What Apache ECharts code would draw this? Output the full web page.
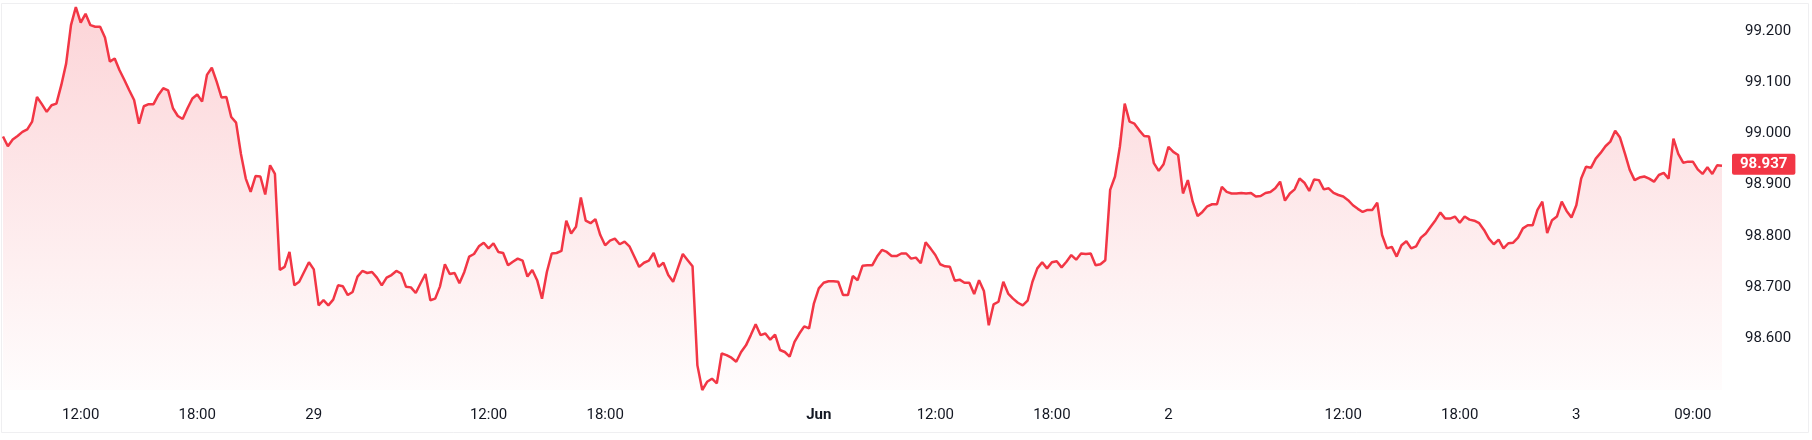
<!DOCTYPE html>
<html>
<head>
<meta charset="utf-8">
<script src="https://cdn.jsdelivr.net/npm/echarts@6/dist/echarts.min.js"></script>
<style>
html,body{margin:0;padding:0;background:#ffffff;}
#chart{width:1812px;height:440px;}
</style>
</head>
<body>
<div id="chart"></div>
<script>
// 15-minute closes
const prices = [
98.994,98.975,98.988,98.995,99.003,99.008,99.023,99.071,99.057,99.042,
99.055,99.058,99.094,99.136,99.211,99.246,99.216,99.233,99.211,99.208,
99.208,99.187,99.140,99.146,99.123,99.104,99.084,99.065,99.019,99.053,
99.057,99.057,99.075,99.088,99.084,99.049,99.034,99.028,99.049,99.068,
99.076,99.062,99.114,99.128,99.101,99.070,99.071,99.032,99.021,98.960,
98.912,98.886,98.917,98.916,98.881,98.938,98.921,98.734,98.740,98.769,
98.704,98.711,98.730,98.749,98.735,98.665,98.675,98.665,98.676,98.704,
98.702,98.685,98.691,98.721,98.732,98.728,98.730,98.719,98.704,98.719,
98.724,98.732,98.727,98.701,98.700,98.689,98.708,98.726,98.675,98.678,
98.702,98.745,98.726,98.728,98.708,98.730,98.760,98.765,98.780,98.787,
98.776,98.786,98.769,98.767,98.743,98.750,98.756,98.752,98.721,98.734,
98.714,98.678,98.730,98.766,98.767,98.771,98.830,98.805,98.818,98.875,
98.830,98.825,98.833,98.802,98.782,98.791,98.795,98.784,98.789,98.780,
98.760,98.740,98.748,98.752,98.767,98.740,98.748,98.724,98.711,98.738,
98.765,98.753,98.741,98.548,98.500,98.516,98.522,98.513,98.571,98.568,
98.563,98.555,98.574,98.587,98.607,98.628,98.607,98.610,98.598,98.608,
98.578,98.574,98.565,98.594,98.610,98.624,98.620,98.669,98.698,98.709,
98.712,98.712,98.711,98.685,98.685,98.722,98.714,98.742,98.743,98.743,
98.760,98.773,98.769,98.761,98.761,98.766,98.766,98.756,98.758,98.747,
98.788,98.776,98.763,98.745,98.741,98.740,98.713,98.715,98.709,98.709,
98.687,98.714,98.693,98.626,98.667,98.672,98.711,98.688,98.678,98.670,
98.665,98.674,98.711,98.737,98.749,98.737,98.749,98.751,98.739,98.750,
98.763,98.754,98.766,98.765,98.766,98.743,98.745,98.753,98.890,98.916,
98.974,99.058,99.023,99.019,99.006,98.995,98.994,98.942,98.927,98.940,
98.974,98.964,98.958,98.883,98.909,98.867,98.839,98.847,98.858,98.862,
98.862,98.896,98.886,98.883,98.883,98.884,98.883,98.884,98.877,98.878,
98.884,98.886,98.893,98.906,98.869,98.883,98.891,98.912,98.904,98.888,
98.910,98.909,98.891,98.893,98.884,98.880,98.877,98.870,98.860,98.853,
98.847,98.851,98.851,98.865,98.802,98.776,98.779,98.760,98.782,98.790,
98.776,98.780,98.797,98.805,98.818,98.831,98.846,98.834,98.834,98.838,
98.826,98.838,98.832,98.830,98.825,98.812,98.795,98.784,98.793,98.776,
98.786,98.787,98.797,98.815,98.821,98.821,98.851,98.867,98.806,98.831,
98.838,98.867,98.849,98.836,98.860,98.912,98.935,98.933,98.951,98.962,
98.975,98.984,99.005,98.992,98.961,98.929,98.909,98.914,98.916,98.912,
98.906,98.919,98.923,98.912,98.990,98.960,98.943,98.945,98.945,98.930,
98.921,98.934,98.921,98.938,98.937
];
// time-axis tick labels and the bar index each one sits on
const tickIndex = [16, 40, 64, 100, 124, 168, 192, 216, 240, 276, 300, 324, 348];
const tickText  = ['12:00','18:00','29','12:00','18:00','Jun','12:00','18:00','2','12:00','18:00','3','09:00'];
const boldTicks = ['Jun'];
const lastPrice = 98.937;

const categories = prices.map((_, i) => i);
const tickMap = {};
tickIndex.forEach((idx, k) => { tickMap[idx] = tickText[k]; });

const RED = '#f23645';
const FONT = 'Roboto, "Noto Sans", sans-serif';

const chart = echarts.init(document.getElementById('chart'), null, {renderer: 'canvas'});
chart.setOption({
  animation: false,
  backgroundColor: '#ffffff',
  graphic: [{
    type: 'rect', silent: true, z: -1,
    shape: {x: 1.5, y: 3.5, width: 1807, height: 429},
    style: {fill: 'none', stroke: '#efeff1', lineWidth: 1}
  }],
  grid: {left: 3, right: 90, top: 0, height: 390, containLabel: false},
  xAxis: {
    type: 'category',
    data: categories,
    boundaryGap: false,
    axisLine: {show: false},
    axisTick: {show: false},
    splitLine: {show: false},
    axisLabel: {
      interval: (idx) => tickMap[idx] !== undefined,
      formatter: (val) => {
        const t = tickMap[val];
        if (t === undefined) return '';
        return boldTicks.includes(t) ? '{b|' + t + '}' : t;
      },
      color: '#131722',
      fontFamily: FONT,
      fontSize: 15,
      margin: 18,
      rich: {b: {fontWeight: 'bold', fontFamily: FONT, fontSize: 15, color: '#131722'}}
    }
  },
  yAxis: {
    type: 'value',
    position: 'right',
    min: 98.5,
    max: 99.26,
    interval: 0.1,
    axisLine: {show: false},
    axisTick: {show: false},
    splitLine: {show: false},
    axisLabel: {
      showMinLabel: false,
      showMaxLabel: false,
      formatter: (v) => v.toFixed(3),
      align: 'left',
      margin: 23,
      color: '#131722',
      fontFamily: FONT,
      fontSize: 15
    }
  },
  series: [{
    type: 'line',
    data: prices,
    symbol: 'none',
    lineStyle: {color: RED, width: 2.5},
    areaStyle: {
      origin: 'start',
      color: new echarts.graphic.LinearGradient(0, 0, 0, 1, [
        {offset: 0, color: 'rgba(242,54,69,0.30)'},
        {offset: 1, color: 'rgba(242,54,69,0.02)'}
      ])
    },
    markLine: {
      silent: true,
      symbol: 'none',
      lineStyle: {color: 'rgba(0,0,0,0)', width: 0},
      data: [{yAxis: lastPrice}],
      label: {
        show: true,
        position: 'end',
        distance: 10,
        formatter: () => lastPrice.toFixed(3),
        color: '#ffffff',
        fontWeight: 'bold',
        fontFamily: FONT,
        fontSize: 15,
        backgroundColor: RED,
        borderRadius: 2,
        padding: [3, 8, 3, 8]
      }
    }
  }]
});
</script>
</body>
</html>
